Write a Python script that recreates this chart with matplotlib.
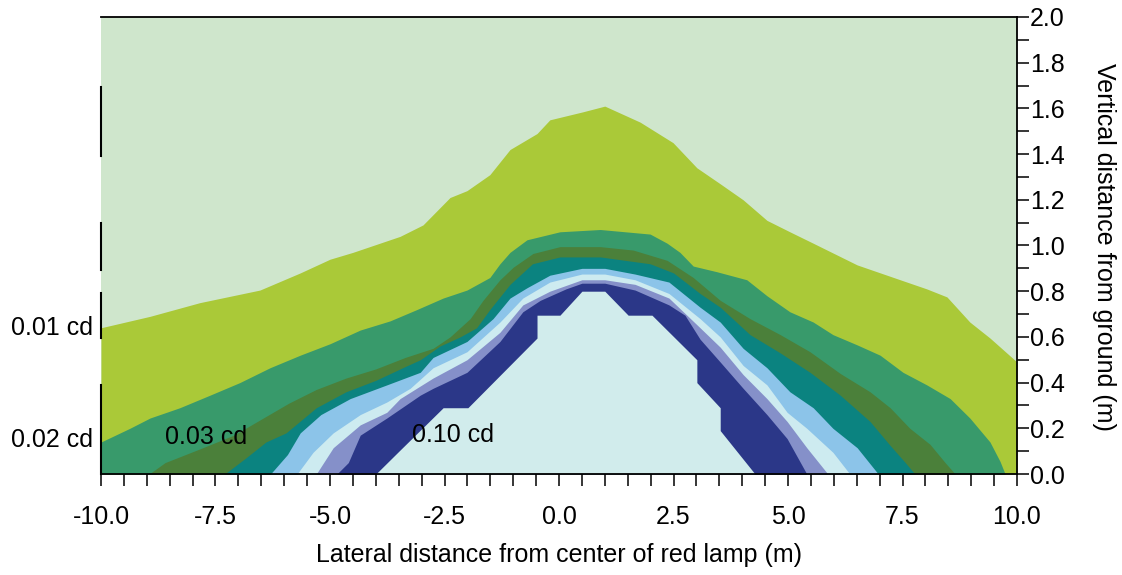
import numpy as np
import matplotlib.pyplot as plt
from matplotlib.ticker import MultipleLocator, FormatStrFormatter

plt.rcParams['font.family'] = ['Liberation Sans', 'DejaVu Sans']

# contour boundaries (x in m, y in m), outermost first
x_c01 = [-10, -8.93, -7.84, -6.53, -5.65, -5.0, -4.5, -3.47, -2.97, -2.38, -2.01, -1.51,
         -1.07, -0.48, -0.2, 0.52, 1.0, 1.77, 2.49, 3.01, 3.52, 4.02, 4.54, 5.04, 5.55,
         6.51, 7.45, 8.03, 8.47, 8.97, 9.41, 10]
y_c01 = [0.64, 0.69, 0.75, 0.805, 0.88, 0.94, 0.97, 1.04, 1.09, 1.21, 1.24, 1.31,
         1.42, 1.49, 1.55, 1.585, 1.61, 1.54, 1.45, 1.34, 1.27, 1.20, 1.11, 1.06, 1.01,
         0.915, 0.85, 0.81, 0.775, 0.665, 0.595, 0.49]

x_c02 = [-10, -9.37, -8.93, -8.28, -7.62, -6.97, -6.31, -5.65, -5.0, -4.34, -3.69, -3.1,
         -2.53, -2.01, -1.51, -1.29, -1.07, -0.70, 0.02, 0.9, 1.99, 2.36, 2.64, 2.93,
         3.45, 4.1, 4.54, 5.04, 5.55, 5.98, 6.51, 7.01, 7.51, 8.03, 8.54, 8.97, 9.41,
         9.63, 9.74]
y_c02 = [0.14, 0.20, 0.245, 0.29, 0.345, 0.40, 0.465, 0.52, 0.57, 0.63, 0.67, 0.72,
         0.77, 0.805, 0.86, 0.92, 0.97, 1.025, 1.06, 1.07, 1.05, 1.01, 0.97, 0.91,
         0.885, 0.85, 0.78, 0.71, 0.665, 0.61, 0.565, 0.52, 0.445, 0.39, 0.33, 0.245,
         0.14, 0.055, 0.0]

x_c03 = [-8.95, -8.6, -7.84, -7.1, -6.5, -5.9, -5.3, -4.65, -4.0, -3.36, -2.75, -2.38,
         -1.94, -1.66, -1.29, -1.0, -0.57, 0.02, 0.9, 1.62, 2.36, 2.93, 3.52, 4.17,
         4.83, 5.48, 6.14, 6.79, 7.23, 7.66, 8.10, 8.43, 8.65]
y_c03 = [0.0, 0.05, 0.11, 0.17, 0.24, 0.31, 0.37, 0.42, 0.46, 0.51, 0.55, 0.60,
         0.68, 0.76, 0.85, 0.905, 0.965, 0.995, 0.995, 0.98, 0.935, 0.86, 0.76, 0.68,
         0.61, 0.535, 0.44, 0.36, 0.29, 0.20, 0.13, 0.05, 0.0]

x_c04 = [-7.3, -6.84, -6.4, -5.96, -5.3, -4.65, -4.0, -3.36, -3.03, -2.6, -2.16, -1.8,
         -1.51, -1.07, -0.58, 0.02, 0.9, 1.99, 2.5, 3.08, 3.52, 4.17, 4.83, 5.48, 6.14,
         6.79, 7.23, 7.56, 7.77]
y_c04 = [0.0, 0.07, 0.14, 0.18, 0.29, 0.36, 0.41, 0.47, 0.50, 0.56, 0.60, 0.64,
         0.72, 0.83, 0.92, 0.95, 0.95, 0.92, 0.88, 0.79, 0.73, 0.61, 0.53, 0.445, 0.345,
         0.23, 0.125, 0.05, 0.0]

x_c05 = [-6.3, -5.93, -5.65, -5.2, -4.56, -3.76, -3.03, -2.75, -2.01, -1.44, -1.07, -0.7,
         -0.2, 0.5, 1.0, 1.66, 2.4, 3.08, 3.52, 4.02, 4.54, 5.04, 5.55, 5.98, 6.51, 6.97]
y_c05 = [0.0, 0.085, 0.18, 0.26, 0.33, 0.39, 0.445, 0.51, 0.58, 0.68, 0.77, 0.815,
         0.87, 0.90, 0.90, 0.875, 0.84, 0.73, 0.665, 0.55, 0.465, 0.36, 0.29, 0.20, 0.115, 0.0]

x_c06 = [-5.72, -5.37, -4.93, -4.34, -3.76, -3.25, -2.75, -2.01, -1.29, -0.79, -0.2, 0.5,
         1.0, 1.66, 2.4, 3.08, 3.52, 4.02, 4.54, 4.98, 5.41, 5.98, 6.35]
y_c06 = [0.0, 0.095, 0.18, 0.26, 0.315, 0.375, 0.465, 0.535, 0.665, 0.77, 0.84, 0.875,
         0.875, 0.85, 0.79, 0.68, 0.60, 0.475, 0.39, 0.27, 0.20, 0.095, 0.0]

x_c07 = [-5.3, -4.93, -4.34, -3.76, -3.47, -2.75, -2.01, -1.29, -0.79, -0.2, 0.5, 1.0,
         1.66, 2.4, 3.08, 3.52, 4.02, 4.54, 4.98, 5.41, 5.87]
y_c07 = [0.0, 0.115, 0.215, 0.27, 0.33, 0.42, 0.50, 0.62, 0.74, 0.80, 0.85, 0.85,
         0.83, 0.77, 0.64, 0.555, 0.435, 0.33, 0.23, 0.115, 0.0]

x_c08 = [-4.85, -4.6, -4.34, -3.76, -3.03, -2.75, -2.01, -1.29, -0.79, -0.41, 0.15, 0.5,
         1.0, 1.66, 2.4, 2.75, 3.08, 3.52, 4.02, 4.54, 4.98, 5.41]
y_c08 = [0.0, 0.05, 0.17, 0.245, 0.345, 0.375, 0.445, 0.58, 0.71, 0.76, 0.81, 0.835,
         0.835, 0.805, 0.74, 0.695, 0.59, 0.49, 0.375, 0.26, 0.155, 0.0]

x_c10 = [-4.0, -3.47, -2.53, -1.99, -0.48, -0.48, 0.02, 0.5, 1.0, 1.51, 2.03, 3.01,
         3.01, 3.52, 3.52, 4.28]
y_c10 = [0.0, 0.105, 0.29, 0.29, 0.595, 0.695, 0.695, 0.80, 0.80, 0.695, 0.695, 0.50,
         0.40, 0.29, 0.19, 0.0]

boundaries = [(x_c01, y_c01), (x_c02, y_c02), (x_c03, y_c03), (x_c04, y_c04),
              (x_c05, y_c05), (x_c06, y_c06), (x_c07, y_c07), (x_c08, y_c08),
              (x_c10, y_c10)]
colors = ['#aac938', '#389a6b', '#4b803a', '#0b8380', '#8cc4e9',
          '#cdebf0', '#8590c9', '#2b3788', '#d1ecec']

fig = plt.figure(figsize=(11.22, 5.75), dpi=100)
ax = fig.add_axes([101/1122, 1 - 474/575, 916/1122, 457/575])
ax.set_facecolor('#cfe6cc')

for (xb, yb), c in zip(boundaries, colors):
    ax.fill_between(xb, 0, yb, color=c, lw=0)

ax.set_xlim(-10, 10)
ax.set_ylim(0, 2.0)

# spines
ax.spines['left'].set_visible(False)
for s in ['top', 'right', 'bottom']:
    ax.spines[s].set_linewidth(1.3)
for y0, y1 in [(0.0, 0.195), (0.298, 0.396), (0.446, 0.549), (0.696, 0.847)]:
    ax.axvline(-10, ymin=y0, ymax=y1, color='k', lw=1.5, clip_on=False)

ax.yaxis.tick_right()
ax.xaxis.set_major_locator(MultipleLocator(2.5))
ax.xaxis.set_minor_locator(MultipleLocator(0.5))
ax.yaxis.set_major_locator(MultipleLocator(0.2))
ax.yaxis.set_minor_locator(MultipleLocator(0.1))
ax.xaxis.set_major_formatter(FormatStrFormatter('%.1f'))
ax.yaxis.set_major_formatter(FormatStrFormatter('%.1f'))
ax.tick_params(axis='both', which='both', direction='out', length=8.5, width=1.1,
               labelsize=18)
ax.tick_params(axis='x', which='both', pad=14)
ax.tick_params(axis='y', which='both', pad=1)

ax.set_xlabel('Lateral distance from center of red lamp (m)', fontsize=18, labelpad=10)
fig.text(1104/1122, 1 - 247/575, 'Vertical distance from ground (m)', fontsize=18,
         rotation=270, ha='center', va='center')

# contour labels
ax.text(-10.18, 0.64, '0.01 cd', fontsize=18, ha='right', va='center')
ax.text(-10.18, 0.15, '0.02 cd', fontsize=18, ha='right', va='center')
ax.text(-8.6, 0.16, '0.03 cd', fontsize=18, ha='left', va='center')
ax.text(-3.2, 0.17, '0.10 cd', fontsize=18, ha='left', va='center')

fig.savefig('out.png', dpi=100)
